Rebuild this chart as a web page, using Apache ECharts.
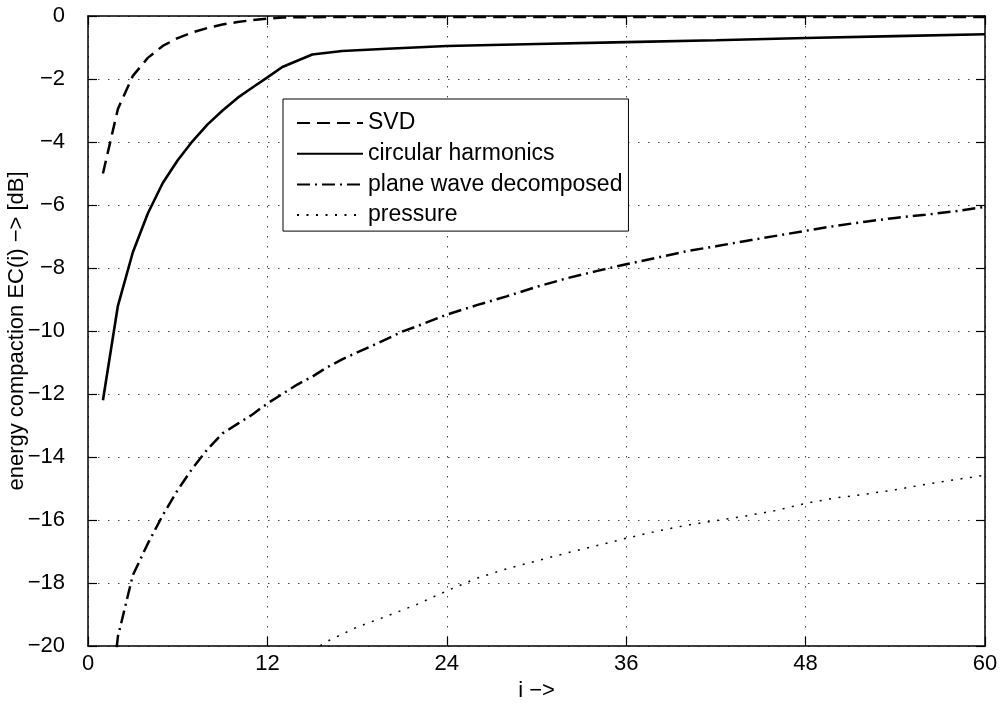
<!DOCTYPE html>
<html>
<head>
<meta charset="utf-8">
<script src="https://cdn.jsdelivr.net/npm/echarts@6/dist/echarts.min.js"></script>
<style>
html,body{margin:0;padding:0;background:#fff;}
#chart{width:1002px;height:704px;}
</style>
</head>
<body>
<div id="chart"></div>
<script>
// ---- data ----
var xTicks = [0, 12, 24, 36, 48, 60];
var yTicks = [0, -2, -4, -6, -8, -10, -12, -14, -16, -18, -20];
var seriesNames = ['SVD', 'circular harmonics', 'plane wave decomposed', 'pressure'];

var svdX = [1, 2, 3, 4, 5, 6, 7, 8, 9, 10, 11, 12, 13, 14, 16, 20, 30, 40, 50, 60];
var svdY = [-5.0, -2.95, -1.9, -1.33, -0.95, -0.7, -0.52, -0.38, -0.27, -0.19, -0.13, -0.08, -0.05, -0.04, -0.035, -0.03, -0.03, -0.03, -0.03, -0.03];

var chX = [1, 2, 3, 4, 5, 6, 7, 8, 9, 10, 11, 12, 13, 15, 17, 20, 24, 30, 36, 42, 48, 54, 60];
var chY = [-12.2, -9.2, -7.5, -6.27, -5.3, -4.58, -3.97, -3.44, -3.0, -2.6, -2.27, -1.95, -1.62, -1.22, -1.11, -1.04, -0.95, -0.89, -0.83, -0.77, -0.70, -0.64, -0.58];

var pwX = [1, 2, 3, 4, 5, 6, 7, 8, 9, 10, 11, 12, 13, 14, 15, 16, 17, 18, 19, 20, 21, 22, 24, 26, 28, 30, 32, 34, 36, 38, 40, 42, 44, 46, 48, 50, 52, 54, 56, 58, 60];
var pwY = [-24, -19.7, -17.75, -16.75, -15.85, -15.05, -14.35, -13.75, -13.25, -12.95, -12.65, -12.3, -12.0, -11.7, -11.45, -11.15, -10.9, -10.68, -10.47, -10.25, -10.02, -9.85, -9.48, -9.18, -8.9, -8.6, -8.33, -8.1, -7.88, -7.68, -7.47, -7.31, -7.14, -6.98, -6.82, -6.66, -6.53, -6.41, -6.31, -6.2, -6.06];

var prX = [15, 16, 18, 20, 22, 24, 26, 28, 30, 32, 34, 36, 38, 40, 42, 44, 46, 48, 50, 52, 54, 56, 58, 60];
var prY = [-20.15, -19.85, -19.4, -19.05, -18.68, -18.25, -17.85, -17.55, -17.3, -17.05, -16.82, -16.58, -16.36, -16.17, -16.02, -15.87, -15.7, -15.47, -15.3, -15.18, -15.04, -14.87, -14.72, -14.58];

function zip(xs, ys) { return xs.map(function (x, k) { return [x, ys[k]]; }); }

var FONT = 'Liberation Sans, Arial, Helvetica, sans-serif';
var FS = 22;
var LFS = 23;
function minus(v) { return String(v).replace('-', '\u2212'); }

var chart = echarts.init(document.getElementById('chart'), null, {renderer: 'canvas'});

var gridDots = {show: true, lineStyle: {color: '#444', width: 1, type: [1.5, 8.5]}};
var axisLine = {show: true, onZero: false, lineStyle: {color: '#000', width: 1.5}};
var tick = {show: true, inside: true, length: 9, lineStyle: {color: '#000', width: 1.2}};

var option = {
  backgroundColor: '#fff',
  animation: false,
  grid: {left: 88, right: 17, top: 16, bottom: 58, show: false, containLabel: false, outerBoundsMode: 'none'},
  legend: {
    orient: 'vertical',
    left: 283,
    top: 99,
    data: seriesNames,
    backgroundColor: '#fff',
    borderColor: '#000',
    borderWidth: 1,
    borderRadius: 0,
    padding: [12.5, 6, 4.5, 13],
    itemWidth: 66,
    itemHeight: 20,
    itemGap: 7.7,
    itemStyle: {opacity: 0},
    textStyle: {fontFamily: FONT, fontSize: LFS, color: '#000'}
  },
  xAxis: [{
    type: 'value', min: 0, max: 60, interval: 12,
    position: 'bottom',
    name: 'i \u2212>', nameLocation: 'middle', nameGap: 34, nameMoveOverlap: false,
    nameTextStyle: {fontFamily: FONT, fontSize: FS, color: '#000'},
    axisLine: axisLine, axisTick: tick,
    axisLabel: {fontFamily: FONT, fontSize: FS, color: '#000', margin: 7},
    splitLine: gridDots
  }, {
    type: 'value', min: 0, max: 60, interval: 12,
    position: 'top',
    axisLine: axisLine, axisTick: tick,
    axisLabel: {show: false}, splitLine: {show: false}
  }],
  yAxis: [{
    type: 'value', min: -20, max: 0, interval: 2,
    position: 'left',
    name: 'energy compaction EC(i) \u2212> [dB]', nameLocation: 'middle', nameGap: 60, nameMoveOverlap: false,
    nameTextStyle: {fontFamily: FONT, fontSize: FS, color: '#000'},
    axisLine: axisLine, axisTick: tick,
    axisLabel: {fontFamily: FONT, fontSize: FS, color: '#000', margin: 23, formatter: minus},
    splitLine: gridDots
  }, {
    type: 'value', min: -20, max: 0, interval: 2,
    position: 'right',
    axisLine: axisLine, axisTick: tick,
    axisLabel: {show: false}, splitLine: {show: false}
  }],
  series: [{
    name: seriesNames[0], type: 'line', data: zip(svdX, svdY),
    symbol: 'none', clip: true,
    lineStyle: {color: '#000', width: 2.5, type: [13, 7]},
    itemStyle: {color: '#000'}
  }, {
    name: seriesNames[1], type: 'line', data: zip(chX, chY),
    symbol: 'none', clip: true,
    lineStyle: {color: '#000', width: 2.6, type: 'solid'},
    itemStyle: {color: '#000'}
  }, {
    name: seriesNames[2], type: 'line', data: zip(pwX, pwY),
    symbol: 'none', clip: true,
    lineStyle: {color: '#000', width: 2.5, type: [13, 5, 2, 5]},
    itemStyle: {color: '#000'}
  }, {
    name: seriesNames[3], type: 'line', data: zip(prX, prY),
    symbol: 'none', clip: true,
    lineStyle: {color: '#000', width: 1.5, type: [2, 7.5]},
    itemStyle: {color: '#000'}
  }]
};
chart.setOption(option);
</script>
</body>
</html>
